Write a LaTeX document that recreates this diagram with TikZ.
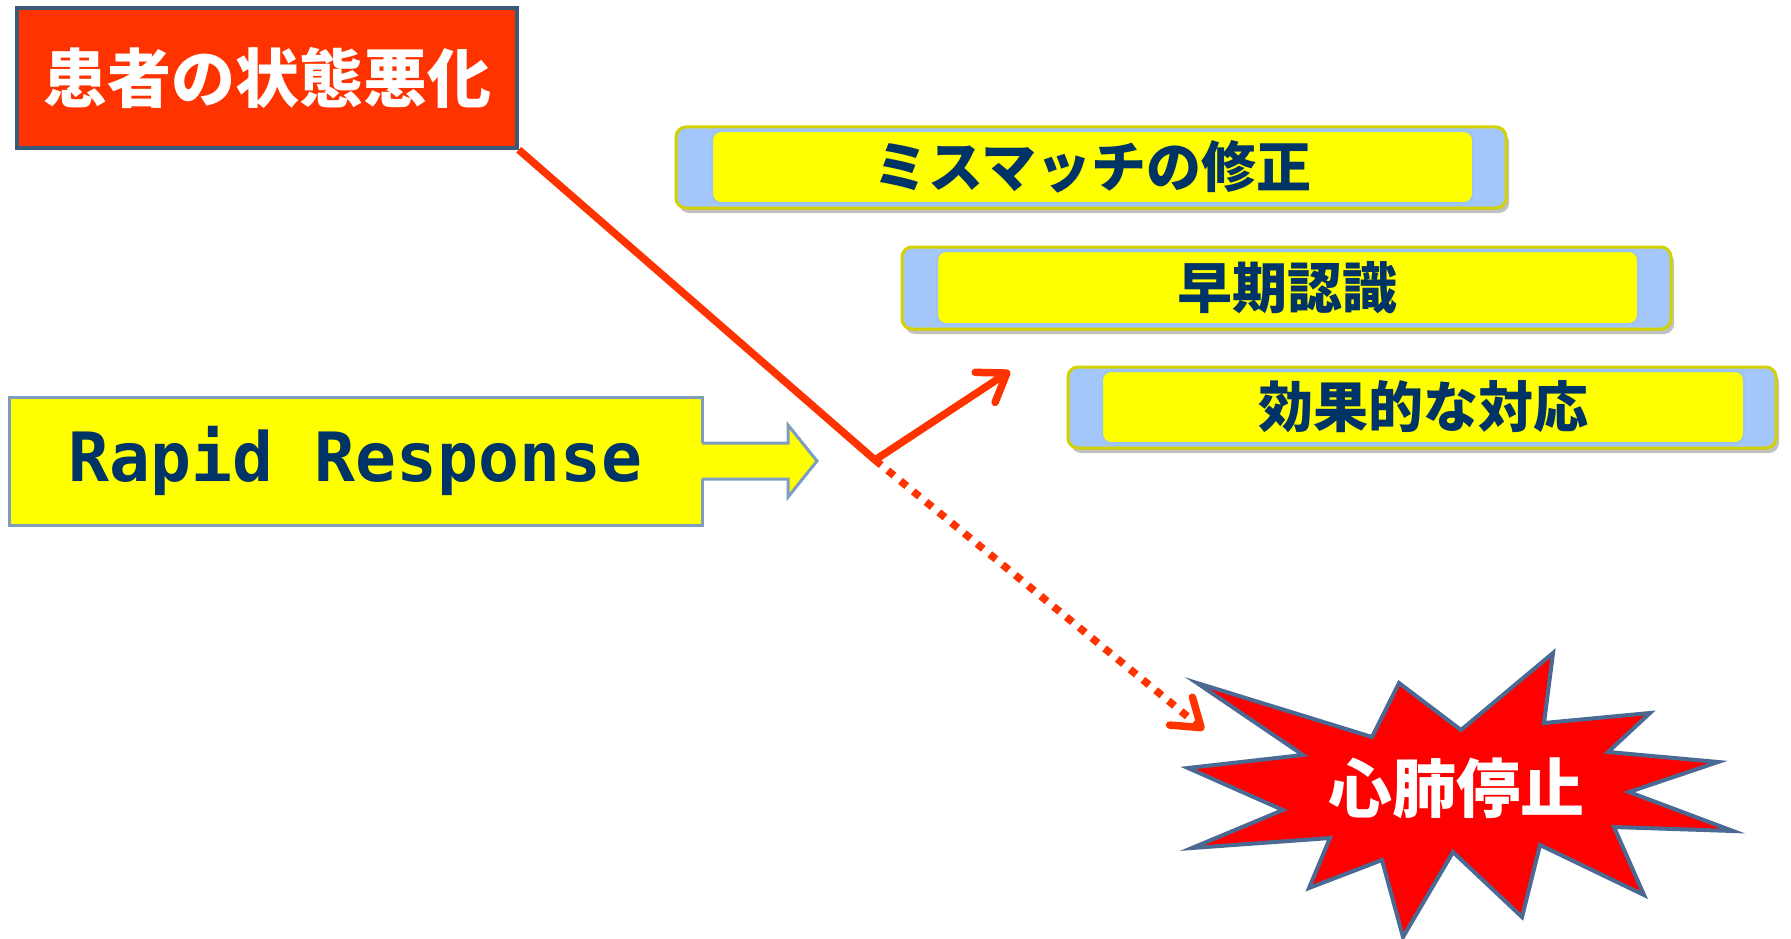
\documentclass[tikz,border=0pt]{standalone}
\usepackage{fontspec}
\setmonofont{DejaVu Sans Mono}
\newfontfamily\jp{Noto Sans CJK JP}
\usetikzlibrary{arrows.meta,shadows}
\definecolor{boxred}{HTML}{FF3300}
\definecolor{boxedge}{HTML}{3B5A7A}
\definecolor{navy}{HTML}{003366}
\definecolor{ylw}{HTML}{FFFF00}
\definecolor{rredge}{HTML}{7F9DC0}
\definecolor{lblue}{HTML}{A3C7FA}
\definecolor{baredge}{HTML}{D2D200}
\definecolor{inedge}{HTML}{9DC3F5}
\definecolor{starred}{HTML}{FF0000}
\definecolor{staredge}{HTML}{4A6A94}
\begin{document}
\begin{tikzpicture}[x=1pt,y=-1pt,
  redboxstyle/.style={draw=boxedge, line width=3.5pt, fill=boxred, text=white,
    minimum width=500pt, minimum height=140pt, inner sep=0pt,
    font=\jp\bfseries\fontsize{64}{70}\selectfont},
  rrbox/.style={draw=rredge, line width=3pt, fill=ylw, text=navy,
    minimum width=693pt, minimum height=128pt, inner sep=0pt,
    font=\ttfamily\bfseries\fontsize{68}{74}\selectfont},
  blockedge/.style={draw=rredge, line width=3pt, line join=miter},
  outerbar/.style={draw=baredge, line width=3pt, fill=lblue, rounded corners=10pt,
    inner sep=0pt, drop shadow={shadow xshift=3pt, shadow yshift=-5pt, opacity=0.35, fill=black!70}},
  innerbar/.style={draw=inedge, line width=2pt, fill=ylw, rounded corners=9pt,
    inner sep=0pt, text=navy, font=\jp\bfseries\fontsize{55}{60}\selectfont},
  redline/.style={draw=boxred, line width=7.5pt},
  arr/.style={-{Straight Barb[length=26pt,width=36pt,round]}},
  dotline/.style={dash pattern=on 8pt off 8.5pt},
  starstyle/.style={draw=staredge, line width=4pt, fill=starred, line join=miter},
  startext/.style={text=white, font=\jp\bfseries\fontsize{64}{70}\selectfont}
]
\useasboundingbox (0,0) rectangle (1791,939);

% bars
\node[outerbar, minimum width=830pt, minimum height=81pt] (b1o) at (1091,167.5) {};
\node[innerbar, minimum width=761pt, minimum height=72pt] (b1) at (1092.5,167) {ミスマッチの修正};
\node[outerbar, minimum width=769pt, minimum height=82pt] (b2o) at (1286.5,288) {};
\node[innerbar, minimum width=701pt, minimum height=73pt] (b2) at (1287.5,287.5) {早期認識};
\node[outerbar, minimum width=708pt, minimum height=81pt] (b3o) at (1422,407.5) {};
\node[innerbar, minimum width=642pt, minimum height=72pt] (b3) at (1423,407) {効果的な対応};

% red box
\node[redboxstyle] (r) at (267,78) {患者の状態悪化};

% rapid response
\node[rrbox] (rr) at (355.5,461) {Rapid Response};
\fill[ylw] (698,443) -- (788,443) -- (788,425) -- (817,461) -- (788,497) -- (788,479) -- (698,479) -- cycle;
\draw[blockedge] (702,443) -- (788,443) -- (788,425) -- (817,461) -- (788,497) -- (788,479) -- (702,479);

% star
\draw[starstyle] (1197,683) -- (1372,737) -- (1399,683) -- (1461,730) -- (1553,653)
  -- (1544,723) -- (1650,713) -- (1608,752) -- (1718,762) -- (1629,792) -- (1733,831)
  -- (1614,827) -- (1644,895) -- (1540,845) -- (1522,917) -- (1453,852) -- (1403,937)
  -- (1382,860) -- (1309,888) -- (1330,838) -- (1192,848) -- (1283,810) -- (1188,768)
  -- (1303,755) -- cycle;
\node[startext] (s) at (1456,788) {心肺停止};

% connectors
\coordinate (v) at (875,460);
\coordinate (t1) at (1010,371);
\coordinate (t2) at (1204,730);
\draw[redline] (r.south east) -- (v);
\draw[redline, arr] (v) -- (t1);
\draw[redline, dotline, arr] (v) -- (t2);
\end{tikzpicture}
\end{document}
